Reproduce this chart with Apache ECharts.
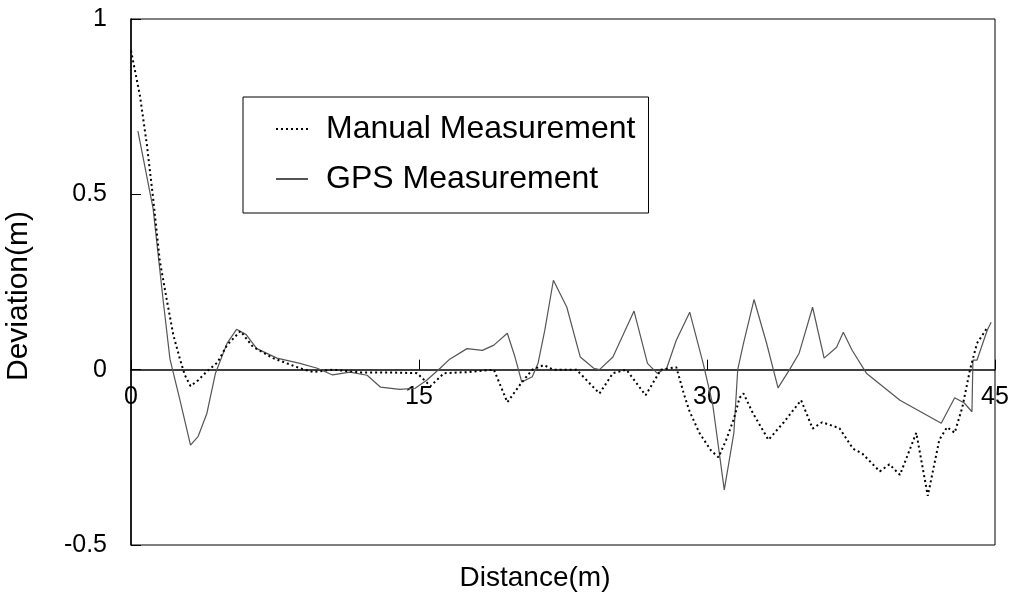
<!DOCTYPE html>
<html>
<head>
<meta charset="utf-8">
<script src="https://cdn.jsdelivr.net/npm/echarts@6/dist/echarts.min.js"></script>
<style>
html,body{margin:0;padding:0;background:#fff;}
#chart{width:1014px;height:599px;}
</style>
</head>
<body>
<div id="chart"></div>
<script>
// ---- data ----
const seriesNames = ['Manual Measurement', 'GPS Measurement'];
const xTicks = [0, 15, 30, 45];
const yTicks = [-0.5, 0, 0.5, 1];

const manualX = [0, 0.47, 0.83, 1.15, 1.5, 1.86, 2.2, 2.55, 2.8, 3.1, 3.5, 3.95, 4.5, 5.0, 5.7, 6.35, 7.4, 8.8, 9.5, 10.5, 12.0, 13.5, 14.9, 15.6, 16.3, 17.5, 18.9, 19.6, 20.3, 20.9, 21.5, 22.0, 23.2, 24.4, 25.1, 25.8, 26.8, 27.6, 28.4, 28.8, 29.1, 29.6, 30.2, 30.6, 31.0, 31.4, 31.7, 31.9, 32.4, 33.2, 34.0, 34.9, 35.5, 36.0, 36.9, 37.6, 38.1, 39.0, 39.5, 40.05, 40.9, 41.5, 42.1, 42.5, 42.9, 43.3, 43.7, 44.06, 44.6];
const manualY = [0.91, 0.78, 0.64, 0.49, 0.31, 0.20, 0.10, 0.03, -0.015, -0.047, -0.03, -0.005, 0.02, 0.07, 0.11, 0.065, 0.033, 0.004, -0.007, 0.0, -0.008, -0.008, -0.01, -0.047, -0.01, -0.007, 0.0, -0.093, -0.04, 0.0, 0.013, 0.0, 0.0, -0.068, -0.01, 0.0, -0.073, 0.0, 0.007, -0.07, -0.12, -0.18, -0.23, -0.25, -0.2, -0.14, -0.08, -0.068, -0.125, -0.2, -0.15, -0.087, -0.168, -0.15, -0.167, -0.225, -0.24, -0.29, -0.27, -0.30, -0.18, -0.36, -0.2, -0.164, -0.18, -0.107, 0.0, 0.075, 0.12];

const gpsX = [0.36, 1.15, 1.67, 2.03, 2.55, 3.1, 3.5, 3.95, 4.4, 5.0, 5.5, 6.0, 6.55, 7.6, 8.8, 9.7, 10.5, 11.4, 12.3, 13.0, 14.0, 14.8, 15.4, 16.1, 16.6, 17.5, 18.3, 18.9, 19.6, 20.0, 20.35, 20.9, 21.2, 21.55, 22.0, 22.7, 23.4, 24.1, 24.4, 25.1, 26.2, 26.9, 27.4, 27.9, 28.4, 29.1, 29.8, 30.3, 30.9, 31.4, 31.6, 31.9, 32.45, 33.1, 33.7, 34.3, 34.8, 35.5, 36.1, 36.75, 37.1, 37.55, 38.3, 40.05, 42.2, 42.9, 43.4, 43.8, 43.85, 44.06, 44.6, 44.8];
const gpsY = [0.68, 0.46, 0.2, 0.03, -0.087, -0.215, -0.19, -0.125, -0.01, 0.075, 0.115, 0.1, 0.06, 0.033, 0.018, 0.004, -0.015, -0.007, -0.016, -0.05, -0.056, -0.053, -0.03, 0.004, 0.03, 0.06, 0.055, 0.07, 0.104, 0.036, -0.035, -0.02, 0.018, 0.112, 0.255, 0.178, 0.036, 0.004, 0.0, 0.036, 0.167, 0.018, -0.01, 0.004, 0.084, 0.164, 0.018, -0.1, -0.343, -0.18, 0.0, 0.075, 0.2, 0.076, -0.052, 0.0, 0.047, 0.178, 0.033, 0.064, 0.107, 0.056, -0.01, -0.087, -0.153, -0.08, -0.095, -0.12, 0.027, 0.027, 0.113, 0.135];

const pairs = (xs, ys) => xs.map((x, i) => [x, ys[i]]);
const FONT = 'Liberation Sans, Arial, sans-serif';

// layout
const W = 1014, H = 599;
const G = {left: 131, right: 19, top: 19, bottom: 54};
const yMin = yTicks[0], yMax = yTicks[yTicks.length - 1];
const plotH = H - G.top - G.bottom;
// shift x axis (line, ticks, labels, name) up to the y = 0 level
const zeroOffset = -plotH * (0 - yMin) / (yMax - yMin);

const chart = echarts.init(document.getElementById('chart'), null, {renderer: 'canvas'});
chart.setOption({
  animation: false,
  backgroundColor: '#fff',
  textStyle: {fontFamily: FONT, color: '#000'},
  grid: Object.assign({show: true, borderColor: '#000', borderWidth: 1, containLabel: false, outerBoundsMode: 'none'}, G),
  legend: {
    data: seriesNames,
    orient: 'vertical',
    left: 243, top: 97,
    itemWidth: 32, itemHeight: 14, itemGap: 18,
    padding: [16, 13, 18, 32],
    borderColor: '#000', borderWidth: 1,
    itemStyle: {color: 'rgba(0,0,0,0)', borderColor: 'rgba(0,0,0,0)', borderWidth: 0},
    textStyle: {fontSize: 32, color: '#000', fontFamily: FONT, padding: [0, 0, 0, 13]}
  },
  xAxis: {
    type: 'value',
    position: 'bottom',
    offset: zeroOffset,
    min: xTicks[0], max: xTicks[xTicks.length - 1], interval: 15,
    name: 'Distance(m)', nameLocation: 'middle', nameGap: 195,
    nameTextStyle: {fontSize: 28, color: '#000', fontFamily: FONT, padding: [0, 56, 0, 0]},
    axisLine: {show: true, onZero: false, lineStyle: {color: '#000', width: 1.5}},
    axisTick: {show: true, inside: true, length: 10, lineStyle: {color: '#000'}},
    axisLabel: {fontSize: 25, color: '#000', margin: 15, fontFamily: FONT},
    splitLine: {show: false}
  },
  yAxis: {
    type: 'value',
    min: yMin, max: yMax, interval: 0.5,
    name: 'Deviation(m)', nameLocation: 'middle', nameGap: 97, nameRotate: 90,
    nameTextStyle: {fontSize: 30, color: '#000', fontFamily: FONT, padding: [0, 28, 0, 0]},
    axisLine: {show: true, lineStyle: {color: '#000', width: 1.5}},
    axisTick: {show: true, inside: true, length: 10, lineStyle: {color: '#000'}},
    axisLabel: {fontSize: 25, color: '#000', margin: 24, fontFamily: FONT},
    splitLine: {show: false}
  },
  series: [
    {
      name: seriesNames[0], type: 'line', symbol: 'none', showSymbol: false,
      data: pairs(manualX, manualY),
      lineStyle: {color: '#000', width: 2, type: [2, 3]},
      itemStyle: {color: '#000'},
      z: 3
    },
    {
      name: seriesNames[1], type: 'line', symbol: 'none', showSymbol: false,
      data: pairs(gpsX, gpsY),
      lineStyle: {color: '#555', width: 1.2, type: 'solid'},
      itemStyle: {color: '#555'},
      z: 2
    }
  ]
});
</script>
</body>
</html>
